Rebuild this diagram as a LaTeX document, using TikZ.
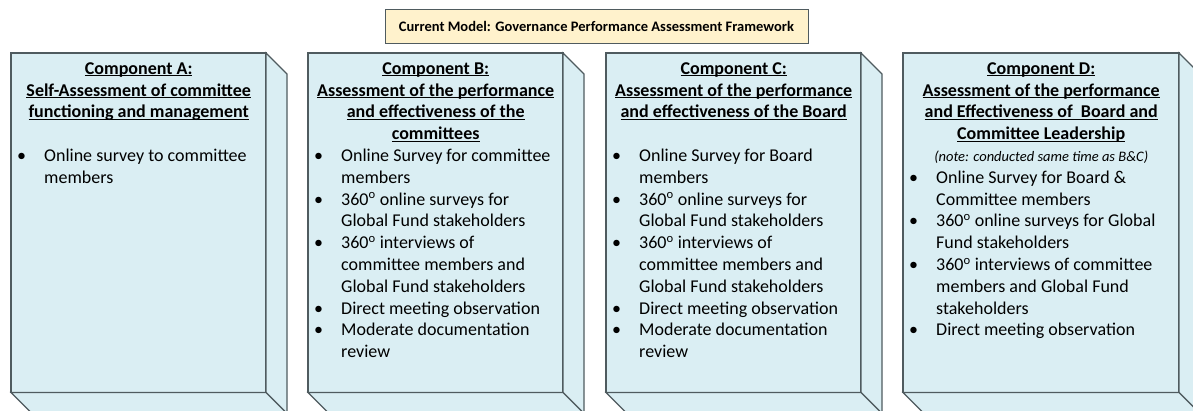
\documentclass[tikz,border=0pt]{standalone}
\usepackage{fontspec}
\setmainfont{Carlito}
\usepackage{array}
\definecolor{boxfill}{HTML}{DAEEF3}
\definecolor{titlefill}{HTML}{FFF2CC}
\definecolor{edgecol}{HTML}{4F5B5F}
\newcommand\ulh[1]{\underline{\smash{#1}}}
\newcommand\bodyfont{\fontsize{18}{21.8}\selectfont}
\newcommand\dg{\textsuperscript{o}}
\newcommand\hd[2]{\multicolumn{2}{@{}c@{}}{\makebox[#1][c]{\bfseries\ulh{#2}}}}
\begin{document}
\begin{tikzpicture}[x=1pt,y=-1pt,
  face/.style={draw=edgecol, line width=1.1pt, fill=boxfill, inner sep=0pt, outer sep=0pt, minimum height=339.5pt, anchor=north west},
  sideface/.style={draw=edgecol, line width=1.1pt, fill=boxfill, line join=miter},
  titlebox/.style={draw=edgecol, line width=1pt, fill=titlefill, inner sep=0pt, minimum width=423pt, minimum height=34pt, font=\fontsize{14.5}{17}\selectfont\bfseries},
  body/.style={inner sep=0pt, anchor=north west, font=\bodyfont},
]
\useasboundingbox (0,0) rectangle (1193,410);
\clip (0,0) rectangle (1193,410);

% title
\node[titlebox] (T) at (596.5,26) {Current Model: Governance Performance Assessment Framework};

% boxes
\foreach \nm/\lx/\w in {A/11/255, B/308/255, C/606/255, D/903/276}{
  \node[face, minimum width=\w pt] (\nm) at (\lx,53) {};
  \draw[sideface] (\nm.north east) -- ++(21,21) -- ([shift={(21,21)}]\nm.south east) -- (\nm.south east) -- cycle;
  \draw[sideface] (\nm.south west) -- (\nm.south east) -- ([shift={(21,21)}]\nm.south east) -- ([shift={(21,21)}]\nm.south west) -- cycle;
}

% texts
\node[body] (tA) at (17,58.74) {\begin{tabular}{@{}p{27pt}@{}l@{}}
\hd{243pt}{Component A:}\\
\hd{243pt}{Self-Assessment of committee}\\
\hd{243pt}{functioning and management}\\
 & \\
\textbullet & Online survey to committee\\
 & members
\end{tabular}};

\node[body] (tB) at (314,58.74) {\begin{tabular}{@{}p{27pt}@{}l@{}}
\hd{243pt}{Component B:}\\
\hd{243pt}{Assessment of the performance}\\
\hd{243pt}{and effectiveness of the}\\
\hd{243pt}{committees}\\
\textbullet & Online Survey for committee\\
 & members\\
\textbullet & 360\dg{} online surveys for\\
 & Global Fund stakeholders\\
\textbullet & 360\dg{} interviews of\\
 & committee members and\\
 & Global Fund stakeholders\\
\textbullet & Direct meeting observation\\
\textbullet & Moderate documentation\\
 & review
\end{tabular}};

\node[body] (tC) at (612,58.74) {\begin{tabular}{@{}p{27pt}@{}l@{}}
\hd{243pt}{Component C:}\\
\hd{243pt}{Assessment of the performance}\\
\hd{243pt}{and effectiveness of the Board}\\
 & \\
\textbullet & Online Survey for Board\\
 & members\\
\textbullet & 360\dg{} online surveys for\\
 & Global Fund stakeholders\\
\textbullet & 360\dg{} interviews of\\
 & committee members and\\
 & Global Fund stakeholders\\
\textbullet & Direct meeting observation\\
\textbullet & Moderate documentation\\
 & review
\end{tabular}};

\node[body] (tD) at (909,58.74) {\begin{tabular}{@{}p{27pt}@{}l@{}}
\hd{264pt}{Component D:}\\
\hd{264pt}{Assessment of the performance}\\
\hd{264pt}{and Effectiveness of\ \ Board and}\\
\hd{264pt}{Committee Leadership}\\
\multicolumn{2}{@{}c@{}}{\makebox[264pt][c]{\fontsize{14.5}{16}\selectfont\itshape (note: conducted same time as B\&C)}}\\
\textbullet & Online Survey for Board \&\\
 & Committee members\\
\textbullet & 360\dg{} online surveys for Global\\
 & Fund stakeholders\\
\textbullet & 360\dg{} interviews of committee\\
 & members and Global Fund\\
 & stakeholders\\
\textbullet & Direct meeting observation
\end{tabular}};
\end{tikzpicture}
\end{document}
